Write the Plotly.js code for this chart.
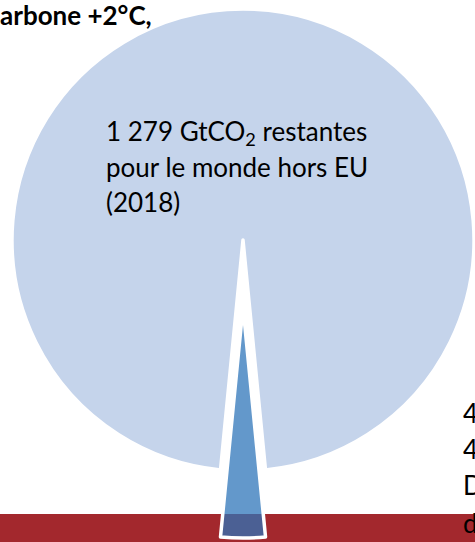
<!DOCTYPE html>
<html>
<head>
<meta charset="utf-8">
<script src="https://cdn.plot.ly/plotly-3.0.1.min.js"></script>
<style>
  html, body { margin: 0; padding: 0; background: #ffffff; overflow: hidden; }
  #chart { width: 475px; height: 542px; }
</style>
</head>
<body>
<div id="chart"></div>
<script>
// Data (GtCO2 remaining carbon budget, 2018)
const sliceLabels = ['UE', 'Monde hors UE'];
const sliceValues = [41, 1279];
const titleText = 'arbone +2°C,';
const worldLabelLines = ['1 279 GtCO<sub>2</sub> restantes', 'pour le monde hors EU', '(2018)'];
const sideLabelLines = ['4', '4', 'D', 'd'];

const W = 475, H = 542;
const euAngle = 360 * sliceValues[0] / (sliceValues[0] + sliceValues[1]);
const rot = 180 - euAngle / 2;

const cBig = '#C5D4EB';
const cWedge = 'rgba(44,116,185,0.74)';
const cRed = '#A3282D';
const clear = 'rgba(0,0,0,0)';

const domX = [12 / W, 474 / W];

const pieMain = {
  type: 'pie', labels: sliceLabels, values: sliceValues, sort: false,
  direction: 'clockwise', rotation: rot,
  domain: { x: domX, y: [71 / H, 533 / H] },
  marker: { colors: [clear, cBig], line: { color: ['rgba(255,255,255,0)', '#ffffff'], width: [0, 3.5] } },
  textinfo: 'none', hoverinfo: 'skip', showlegend: false
};
const piePulled = {
  type: 'pie', labels: sliceLabels, values: sliceValues, sort: false,
  direction: 'clockwise', rotation: rot,
  domain: { x: domX, y: [4 / H, 466 / H] },
  marker: { colors: [cWedge, clear], line: { color: ['#ffffff', 'rgba(255,255,255,0)'], width: [3.5, 0] } },
  textinfo: 'none', hoverinfo: 'skip', showlegend: false
};

const fnt = 'Lato, "Open Sans", sans-serif';
const annotations = [];
const worldY = [132, 167, 202];
worldLabelLines.forEach((t, i) => annotations.push({
  text: t, xref: 'paper', yref: 'paper', x: 104 / W, y: 1 - worldY[i] / H,
  xanchor: 'left', yanchor: 'middle', align: 'left', showarrow: false,
  font: { family: fnt, size: 26, color: '#000000' }
}));
const sideY = [413, 449, 485, 523];
sideLabelLines.forEach((t, i) => annotations.push({
  text: t, xref: 'paper', yref: 'paper', x: 461 / W, y: 1 - sideY[i] / H,
  xanchor: 'left', yanchor: 'middle', align: 'left', showarrow: false,
  font: { family: fnt, size: 26, color: '#000000' }
}));

const layout = {
  width: W, height: H,
  margin: { l: 0, r: 0, t: 0, b: 0 },
  paper_bgcolor: '#ffffff', plot_bgcolor: '#ffffff',
  showlegend: false,
  title: {
    text: '<b>' + titleText + '</b>',
    x: 0, xref: 'paper', xanchor: 'left',
    y: 1 - 7 / H, yref: 'container', yanchor: 'top',
    font: { family: fnt, size: 26, color: '#000000' }
  },
  shapes: [{
    type: 'rect', xref: 'paper', yref: 'paper', layer: 'below',
    x0: 0, x1: 1, y0: 0, y1: 28 / H,
    fillcolor: cRed, line: { width: 0 }
  }],
  annotations: annotations
};

Plotly.newPlot('chart', [pieMain, piePulled], layout, { displayModeBar: false, staticPlot: true });
</script>
</body>
</html>
